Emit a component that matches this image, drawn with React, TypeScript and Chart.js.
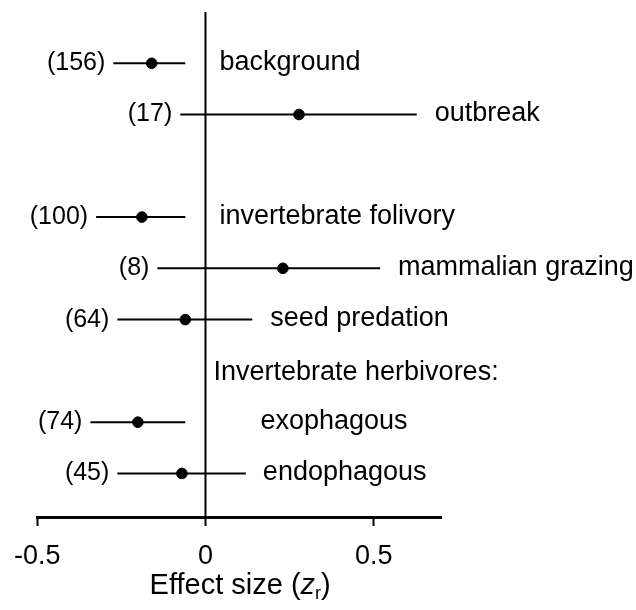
import React, { useEffect, useRef } from 'react';
import { Chart, registerables } from 'chart.js';

Chart.register(...registerables);

// ---- data ----
const categories = [
  'background',
  'outbreak',
  'invertebrate folivory',
  'mammalian grazing',
  'seed predation',
  'exophagous',
  'endophagous',
];
const rowPositions = [0, 1, 3, 4, 5, 7, 8];
const isSubgroup = [false, false, false, false, false, true, true];
const sampleSizes = [156, 17, 100, 8, 64, 74, 45];
const effectSizes = [-0.16, 0.278, -0.189, 0.23, -0.06, -0.201, -0.07];
const ciLower = [-0.274, -0.075, -0.325, -0.143, -0.262, -0.342, -0.262];
const ciUpper = [-0.06, 0.628, -0.06, 0.519, 0.139, -0.06, 0.12];
const headerLabel = 'Invertebrate herbivores:';
const headerRow = 6;
const xTicks = [-0.5, 0, 0.5];
const xMin = -0.5;
const xMax = 0.7;
const yMin = -1;
const yMax = 8.85;

const FONT = '"Liberation Sans", Arial, Helvetica, sans-serif';

const labelsPlugin = {
  id: 'rowLabels',
  afterDatasetsDraw(chart: any) {
    const ctx = chart.ctx;
    const xs = chart.scales.x;
    const ys = chart.scales.y;
    const zeroPx = xs.getPixelForValue(0);
    ctx.save();
    ctx.fillStyle = '#000';
    ctx.textBaseline = 'middle';
    categories.forEach((name, i) => {
      const y = ys.getPixelForValue(rowPositions[i]);
      // sample size label
      ctx.font = `25px ${FONT}`;
      ctx.textAlign = 'right';
      ctx.fillText(`(${sampleSizes[i]})`, xs.getPixelForValue(ciLower[i]) - 8, y);
      // category label
      ctx.font = `27px ${FONT}`;
      ctx.textAlign = 'left';
      const hiPx = xs.getPixelForValue(ciUpper[i]);
      const nx = isSubgroup[i]
        ? Math.max(hiPx + 17, zeroPx + 55)
        : Math.max(hiPx + 18, zeroPx + 14);
      ctx.fillText(name, nx, y - 1);
    });
    ctx.font = `27px ${FONT}`;
    ctx.textAlign = 'left';
    ctx.fillText(headerLabel, zeroPx + 8, ys.getPixelForValue(headerRow) + 2);
    ctx.restore();
  },
};

const axisTitlePlugin = {
  id: 'axisTitle',
  afterDraw(chart: any) {
    const ctx = chart.ctx;
    const area = chart.chartArea;
    const cx = (area.left + area.right) / 2 + 1;
    const y = 594;
    const parts = [
      { t: 'Effect size (', f: `29px ${FONT}`, dy: 0 },
      { t: 'z', f: `italic 29px ${FONT}`, dy: 0 },
      { t: 'r', f: `18px ${FONT}`, dy: 5 },
      { t: ')', f: `29px ${FONT}`, dy: 0 },
    ];
    ctx.save();
    ctx.fillStyle = '#000';
    ctx.textBaseline = 'alphabetic';
    ctx.textAlign = 'left';
    let total = 0;
    const widths = parts.map((p) => {
      ctx.font = p.f;
      const w = ctx.measureText(p.t).width;
      total += w;
      return w;
    });
    let x = cx - total / 2;
    parts.forEach((p, i) => {
      ctx.font = p.f;
      ctx.fillText(p.t, x, y + p.dy);
      x += widths[i];
    });
    ctx.restore();
  },
};

export default function App() {
  const ref = useRef<HTMLCanvasElement>(null);

  useEffect(() => {
    if (!ref.current) return;
    const ciDatasets = categories.map((c, i) => ({
      type: 'line' as const,
      label: c,
      data: [
        { x: ciLower[i], y: rowPositions[i] },
        { x: ciUpper[i], y: rowPositions[i] },
      ],
      borderColor: '#000',
      borderWidth: 2,
      pointRadius: 0,
      fill: false,
    }));
    const chart = new Chart(ref.current, {
      type: 'scatter',
      data: {
        datasets: [
          {
            type: 'line' as const,
            label: 'zero',
            data: [
              { x: 0, y: yMin },
              { x: 0, y: yMax },
            ],
            borderColor: '#000',
            borderWidth: 2,
            pointRadius: 0,
            fill: false,
          },
          ...ciDatasets,
          {
            type: 'scatter' as const,
            label: 'effect',
            data: categories.map((_, i) => ({ x: effectSizes[i], y: rowPositions[i] })),
            backgroundColor: '#000',
            borderColor: '#000',
            pointRadius: 5.3,
            pointHoverRadius: 5.3,
          },
        ] as any,
      },
      options: {
        responsive: false,
        animation: false,
        events: [],
        layout: { padding: { left: 37, right: 195, top: 12, bottom: 0 } },
        plugins: {
          legend: { display: false },
          tooltip: { enabled: false },
        },
        scales: {
          x: {
            type: 'linear',
            min: xMin,
            max: xMax,
            position: 'bottom',
            afterBuildTicks: (scale: any) => {
              scale.ticks = xTicks.map((v) => ({ value: v }));
            },
            afterFit: (scale: any) => {
              scale.height = 93;
            },
            grid: {
              display: true,
              drawOnChartArea: false,
              drawTicks: true,
              tickLength: 9,
              tickWidth: 2,
              tickColor: '#000',
            },
            border: { display: true, width: 3, color: '#000' },
            ticks: {
              color: '#000',
              padding: 14,
              font: { size: 27, family: FONT },
              callback: (v: any) => String(v),
              maxRotation: 0,
              autoSkip: false,
            },
          },
          y: {
            type: 'linear',
            min: yMin,
            max: yMax,
            reverse: true,
            display: false,
          },
        },
      },
      plugins: [labelsPlugin, axisTitlePlugin],
    });
    return () => chart.destroy();
  }, []);

  return (
    <div style={{ position: 'fixed', left: 0, top: 0, width: 636, height: 610, background: '#fff' }}>
      <canvas ref={ref} width={636} height={610} style={{ display: 'block' }} />
    </div>
  );
}
